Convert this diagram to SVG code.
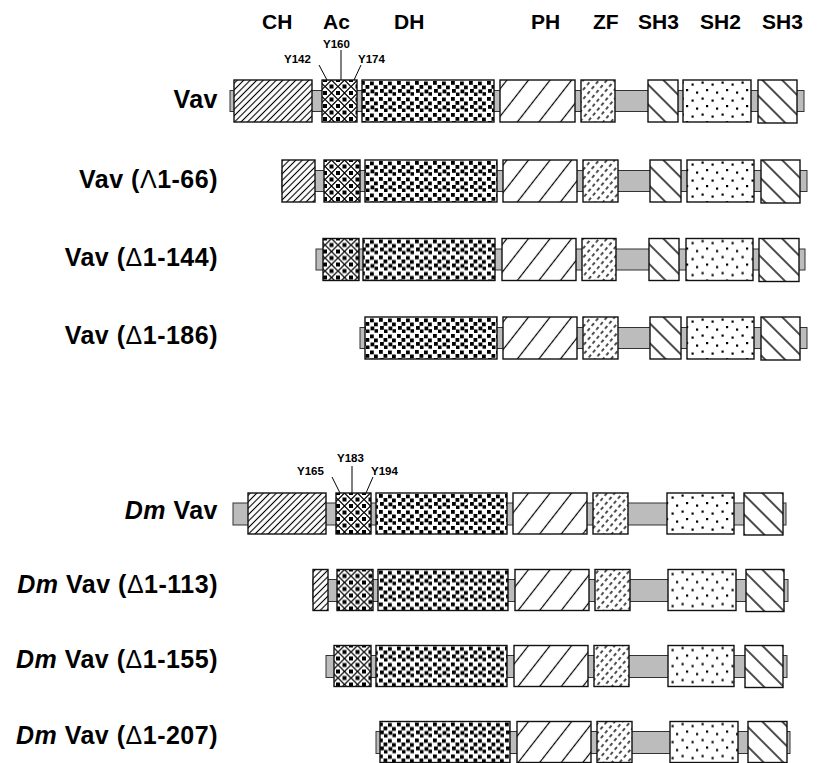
<svg xmlns="http://www.w3.org/2000/svg" width="825" height="763" viewBox="0 0 825 763">
<style>
.box{stroke:#111;stroke-width:1.4}
.bar{fill:#bcbcbc;stroke:#333;stroke-width:1}
.t{font-family:"Liberation Sans",Arial,Helvetica,sans-serif;font-weight:bold;fill:#000}
.hdr{font-size:21px}
.lbl{font-size:25px;text-anchor:end;letter-spacing:0.5px}
.ty{font-size:11.5px}
.d{font-weight:normal}
.ln{stroke:#000;stroke-width:1;fill:none}
.ch{fill:url(#pCH)}.ac{fill:url(#pAc)}.dh{fill:url(#pDH)}.ph{fill:url(#pPH)}.zf{fill:url(#pZF)}.s3{fill:url(#pS3)}.s2{fill:url(#pS2)}
</style>
<defs>
<pattern id="pCH" width="4.6" height="4.6" patternUnits="userSpaceOnUse" patternTransform="rotate(45)"><rect width="4.6" height="4.6" fill="#fff"/><line x1="2.3" y1="0" x2="2.3" y2="4.6" stroke="#000" stroke-width="1.1"/></pattern>
<pattern id="pPH" width="17" height="17" patternUnits="userSpaceOnUse" patternTransform="rotate(38)"><rect width="17" height="17" fill="#fff"/><line x1="8.5" y1="0" x2="8.5" y2="17" stroke="#000" stroke-width="1.2"/></pattern>
<pattern id="pS3" width="14" height="14" patternUnits="userSpaceOnUse" patternTransform="rotate(-45)"><rect width="14" height="14" fill="#fff"/><line x1="7" y1="0" x2="7" y2="14" stroke="#000" stroke-width="1.4"/></pattern>
<pattern id="pZF" width="6" height="6.5" patternUnits="userSpaceOnUse" patternTransform="rotate(40)"><rect width="6" height="6.5" fill="#fff"/><line x1="3" y1="0" x2="3" y2="3.5" stroke="#000" stroke-width="1.4"/></pattern>
<pattern id="pAc" width="13" height="13" patternUnits="userSpaceOnUse"><rect width="13" height="13" fill="#fff"/><path d="M0,6.5L6.5,0L13,6.5L6.5,13Z" stroke="#000" stroke-width="1.2" fill="none"/><rect x="4.5" y="4.5" width="4" height="4" fill="#000"/><rect x="0" y="0" width="2" height="2" fill="#000"/><rect x="11" y="0" width="2" height="2" fill="#000"/><rect x="0" y="11" width="2" height="2" fill="#000"/><rect x="11" y="11" width="2" height="2" fill="#000"/></pattern>
<pattern id="pDH" width="18" height="16" patternUnits="userSpaceOnUse"><rect width="18" height="16" fill="#fff"/><g fill="#000"><rect x="1" y="1" width="3.8" height="3.8"/><rect x="10" y="1.5" width="3.8" height="3.8"/><rect x="5.5" y="5" width="3.8" height="3.8"/><rect x="14" y="5.5" width="3.8" height="3.8"/><rect x="2" y="9" width="3.8" height="3.8"/><rect x="10.5" y="9.5" width="3.8" height="3.8"/><rect x="6" y="12.5" width="3.5" height="3.5"/><rect x="14.5" y="12.2" width="3.5" height="3.5"/></g></pattern>
<pattern id="pS2" width="20" height="16" patternUnits="userSpaceOnUse"><rect width="20" height="16" fill="#fff"/><g fill="#000"><rect x="1.5" y="1.5" width="2.2" height="2.2"/><rect x="11.5" y="3.5" width="2.2" height="2.2"/><rect x="6" y="9" width="2.2" height="2.2"/><rect x="16" y="11.5" width="2.2" height="2.2"/></g></pattern>
</defs>

<g id="header" class="t hdr">
<text x="262" y="29">CH</text>
<text x="323" y="29">Ac</text>
<text x="394" y="29">DH</text>
<text x="531" y="29">PH</text>
<text x="593" y="29">ZF</text>
<text x="638" y="29">SH3</text>
<text x="700" y="29">SH2</text>
<text x="762" y="29">SH3</text>
</g>

<g id="connectors">
<line class="ln" x1="319" y1="65" x2="327" y2="80"/>
<line class="ln" x1="341" y1="50" x2="341" y2="80"/>
<line class="ln" x1="361" y1="65" x2="354" y2="80"/>
<line class="ln" x1="332" y1="477" x2="340" y2="493"/>
<line class="ln" x1="352" y1="466" x2="352" y2="493"/>
<line class="ln" x1="373" y1="477" x2="366" y2="493"/>
</g>

<g id="vav">
<text class="t lbl" x="218" y="108">Vav</text>
<text class="t ty" x="284" y="63">Y142</text>
<text class="t ty" x="323" y="48">Y160</text>
<text class="t ty" x="358" y="63">Y174</text>
<g transform="translate(0,80)">
<rect class="bar" x="230" y="10.5" width="574" height="21"/>
<rect class="box ch" x="234" y="0" width="78" height="42"/>
<rect class="box ac" x="322" y="0" width="35" height="42"/>
<rect class="box dh" x="362" y="0" width="132" height="42"/>
<rect class="box ph" x="500" y="0" width="75" height="42"/>
<rect class="box zf" x="581" y="0" width="34" height="42"/>
<rect class="box s3" x="648" y="0" width="30" height="42"/>
<rect class="box s2" x="683" y="0" width="68" height="42"/>
<rect class="box s3" x="758" y="0" width="39" height="43"/>
</g>
</g>

<g id="vav-d1-66">
<text class="t lbl" x="218" y="188">Vav (<tspan class="d">Λ</tspan>1-66)</text>
<g transform="translate(0,160)">
<rect class="bar" x="282" y="10.5" width="525" height="21"/>
<rect class="box ch" x="282" y="0" width="33" height="42"/>
<rect class="box ac" x="324" y="0" width="36" height="42"/>
<rect class="box dh" x="365" y="0" width="132" height="42"/>
<rect class="box ph" x="503" y="0" width="74" height="42"/>
<rect class="box zf" x="583" y="0" width="35" height="42"/>
<rect class="box s3" x="650" y="0" width="31" height="42"/>
<rect class="box s2" x="687" y="0" width="67" height="42"/>
<rect class="box s3" x="761" y="0" width="39" height="43"/>
</g>
</g>

<g id="vav-d1-144">
<text class="t lbl" x="218" y="266">Vav (<tspan class="d">Δ</tspan>1-144)</text>
<g transform="translate(0,238.5)">
<rect class="bar" x="316" y="10.5" width="489" height="21"/>
<rect class="box ac" x="323" y="0" width="36" height="42"/>
<rect class="box dh" x="363" y="0" width="132" height="42"/>
<rect class="box ph" x="502" y="0" width="74" height="42"/>
<rect class="box zf" x="582" y="0" width="34" height="42"/>
<rect class="box s3" x="649" y="0" width="30" height="42"/>
<rect class="box s2" x="686" y="0" width="67" height="42"/>
<rect class="box s3" x="759" y="0" width="40" height="43"/>
</g>
</g>

<g id="vav-d1-186">
<text class="t lbl" x="218" y="344">Vav (<tspan class="d">Δ</tspan>1-186)</text>
<g transform="translate(0,317)">
<rect class="bar" x="360" y="10.5" width="447" height="21"/>
<rect class="box dh" x="365" y="0" width="132" height="42"/>
<rect class="box ph" x="503" y="0" width="74" height="42"/>
<rect class="box zf" x="583" y="0" width="35" height="42"/>
<rect class="box s3" x="650" y="0" width="31" height="42"/>
<rect class="box s2" x="687" y="0" width="67" height="42"/>
<rect class="box s3" x="761" y="0" width="39" height="43"/>
</g>
</g>

<g id="dm-vav">
<text class="t lbl" x="218" y="519"><tspan font-style="italic">Dm</tspan> Vav</text>
<text class="t ty" x="297" y="475">Y165</text>
<text class="t ty" x="337" y="462">Y183</text>
<text class="t ty" x="371" y="475">Y194</text>
<g transform="translate(0,493)">
<rect class="bar" x="233" y="10" width="553" height="22"/>
<rect class="box ch" x="248" y="0" width="78" height="41"/>
<rect class="box ac" x="336" y="0" width="35" height="41"/>
<rect class="box dh" x="376" y="0" width="131" height="41"/>
<rect class="box ph" x="513" y="0" width="74" height="41"/>
<rect class="box zf" x="593" y="0" width="35" height="41"/>
<rect class="box s2" x="667" y="0" width="67" height="41"/>
<rect class="box s3" x="744" y="0" width="39" height="42"/>
</g>
</g>

<g id="dm-vav-d1-113">
<text class="t lbl" x="218" y="593"><tspan font-style="italic">Dm</tspan> Vav (<tspan class="d">Δ</tspan>1-113)</text>
<g transform="translate(0,569.5)">
<rect class="bar" x="313" y="10" width="475" height="22"/>
<rect class="box ch" x="313" y="0" width="15" height="41"/>
<rect class="box ac" x="337" y="0" width="36" height="41"/>
<rect class="box dh" x="378" y="0" width="130" height="41"/>
<rect class="box ph" x="515" y="0" width="74" height="41"/>
<rect class="box zf" x="595" y="0" width="35" height="41"/>
<rect class="box s2" x="668" y="0" width="68" height="41"/>
<rect class="box s3" x="746" y="0" width="38" height="42"/>
</g>
</g>

<g id="dm-vav-d1-155">
<text class="t lbl" x="218" y="668"><tspan font-style="italic">Dm</tspan> Vav (<tspan class="d">Δ</tspan>1-155)</text>
<g transform="translate(0,645.5)">
<rect class="bar" x="326" y="10" width="461" height="22"/>
<rect class="box ac" x="334" y="0" width="37" height="41"/>
<rect class="box dh" x="376" y="0" width="131" height="41"/>
<rect class="box ph" x="514" y="0" width="74" height="41"/>
<rect class="box zf" x="594" y="0" width="35" height="41"/>
<rect class="box s2" x="668" y="0" width="66" height="41"/>
<rect class="box s3" x="745" y="0" width="38" height="42"/>
</g>
</g>

<g id="dm-vav-d1-207">
<text class="t lbl" x="218" y="744"><tspan font-style="italic">Dm</tspan> Vav (<tspan class="d">Δ</tspan>1-207)</text>
<g transform="translate(0,721.5)">
<rect class="bar" x="376" y="10" width="414" height="22"/>
<rect class="box dh" x="380" y="0" width="130" height="41"/>
<rect class="box ph" x="517" y="0" width="74" height="41"/>
<rect class="box zf" x="597" y="0" width="35" height="41"/>
<rect class="box s2" x="670" y="0" width="68" height="41"/>
<rect class="box s3" x="748" y="0" width="39" height="41"/>
</g>
</g>
</svg>
